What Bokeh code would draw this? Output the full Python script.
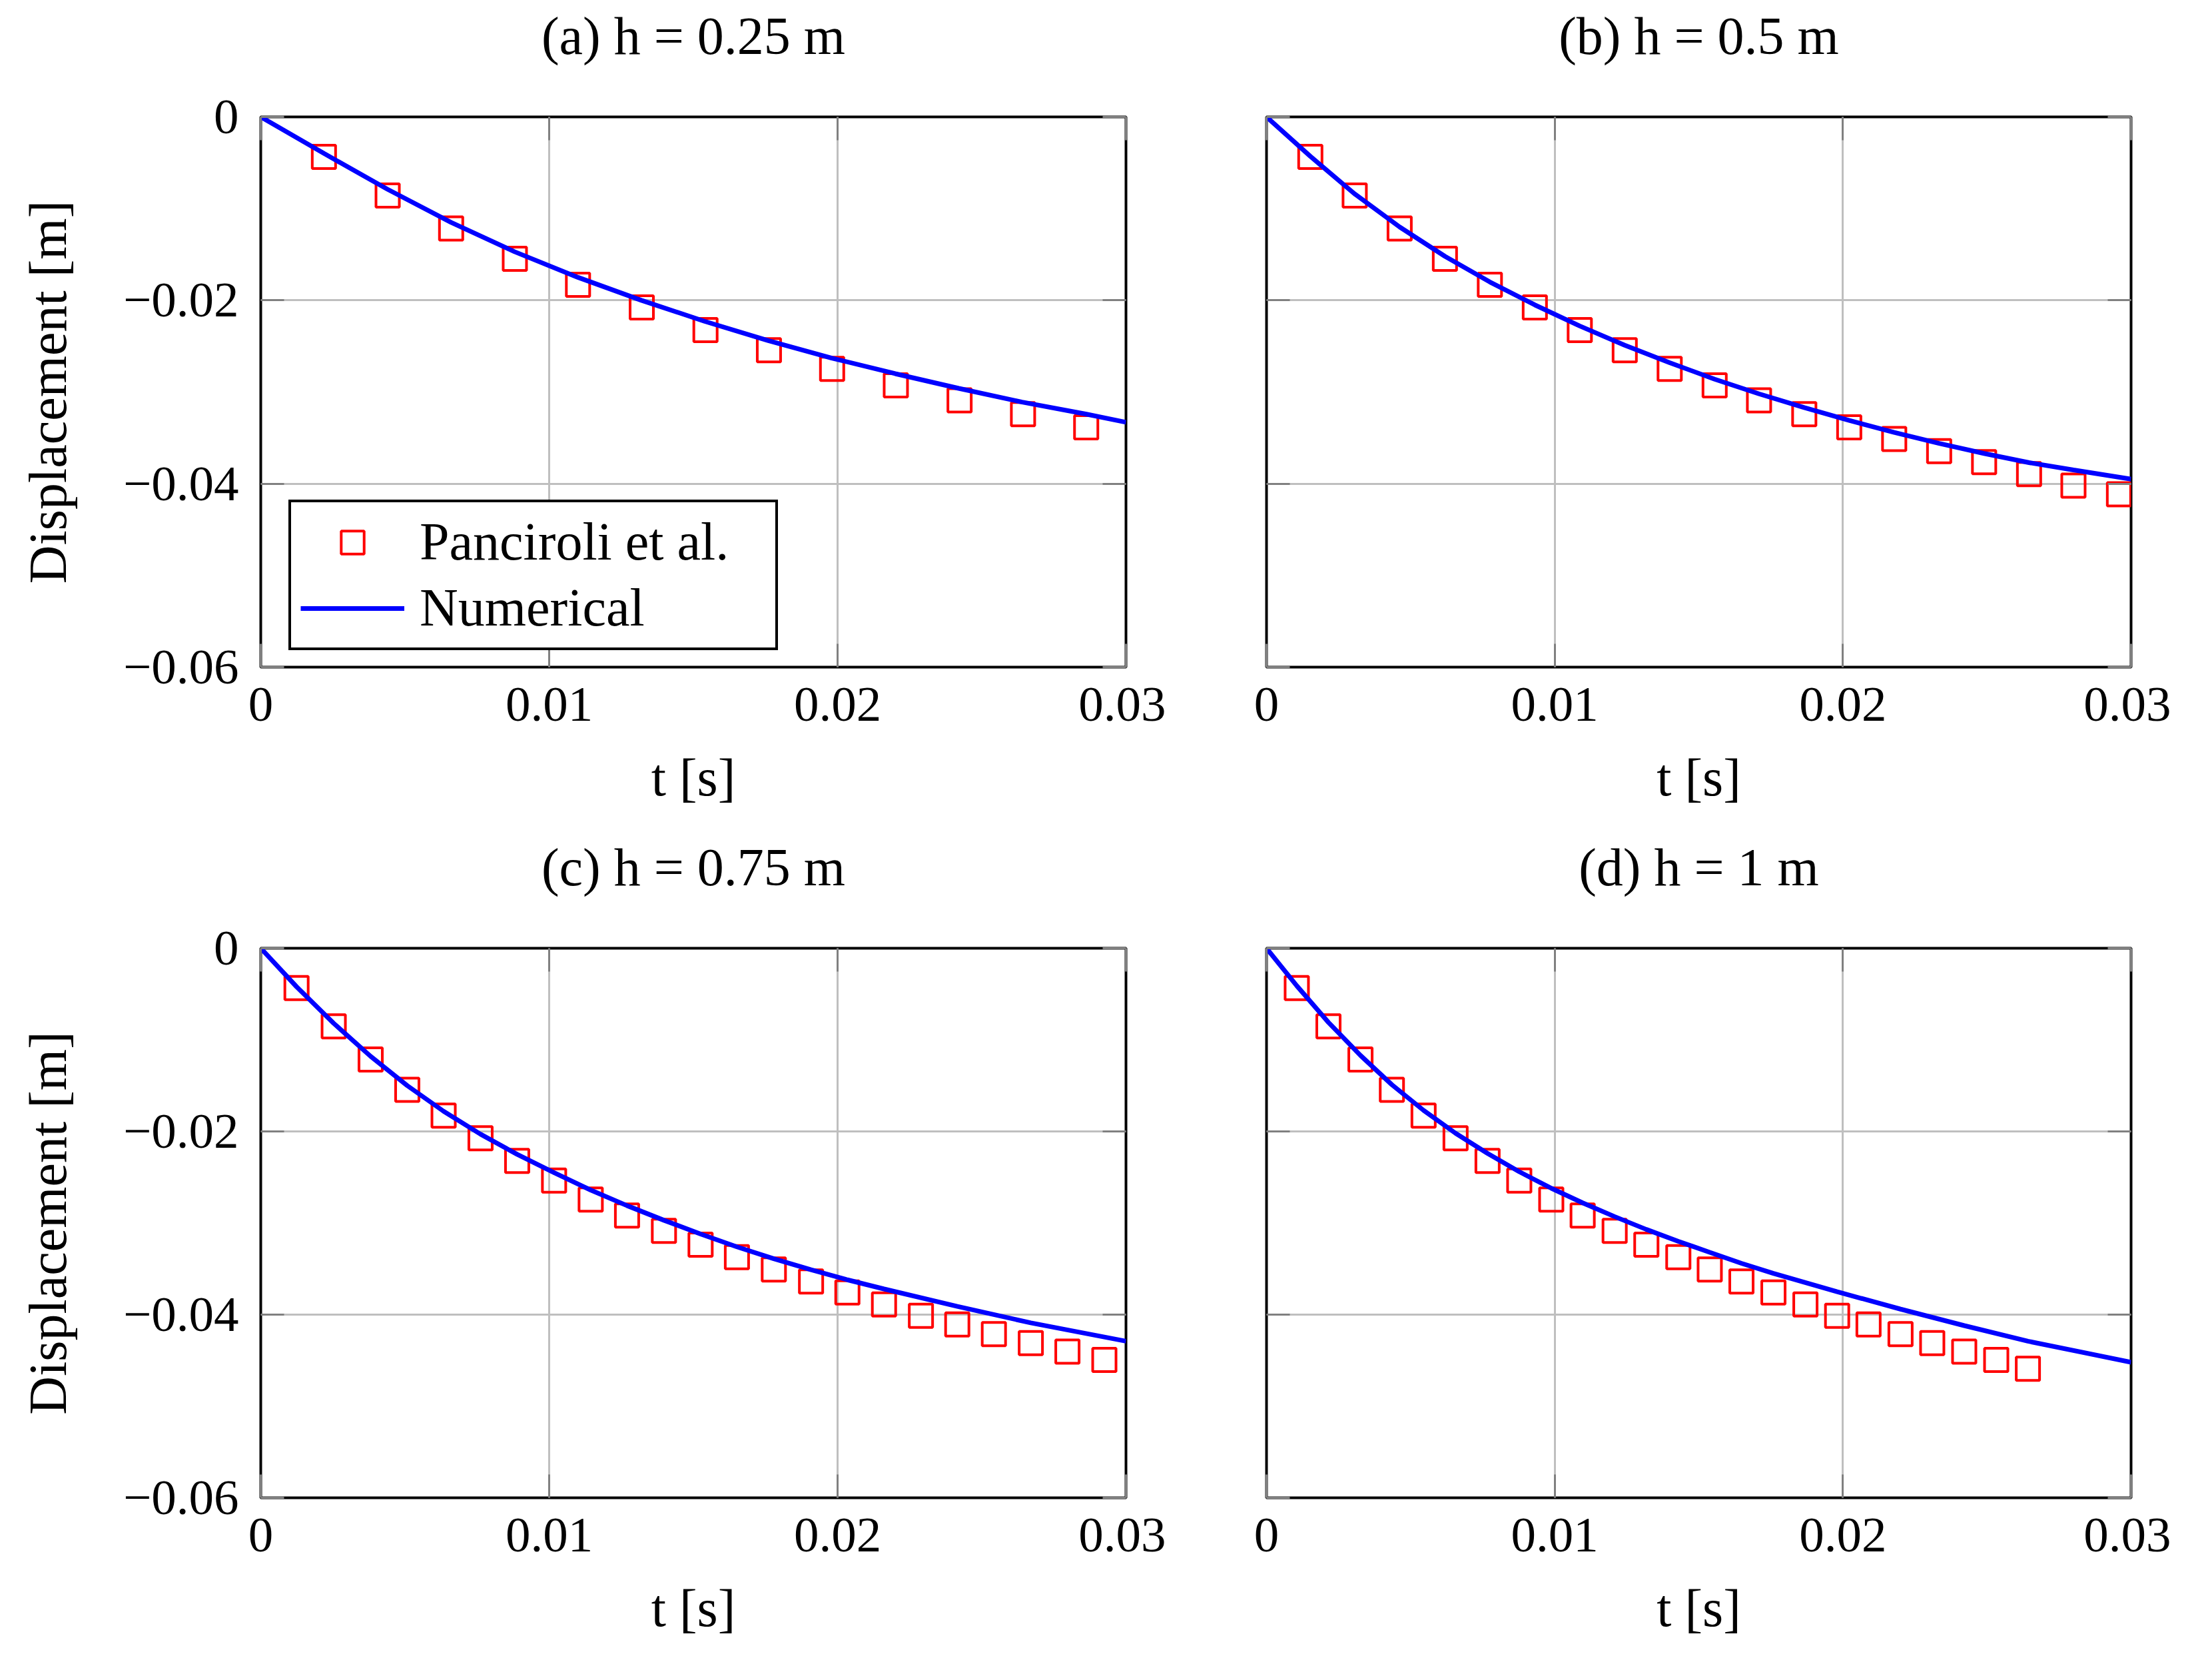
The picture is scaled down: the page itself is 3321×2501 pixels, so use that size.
from bokeh.plotting import figure
from bokeh.layouts import column, row
from bokeh.models import (Range1d, FixedTicker, CustomJSTickFormatter, LinearAxis,
                          Legend, LegendItem)
from bokeh.embed import file_html
from bokeh.resources import INLINE

# ---------------- data ----------------
titles = ["(a) h = 0.25 m", "(b) h = 0.5 m", "(c) h = 0.75 m", "(d) h = 1 m"]

# Panciroli et al. (experimental)
t_exp_a = [0.00219, 0.00440, 0.00660, 0.00881, 0.0110, 0.01321, 0.01542, 0.01762,
           0.01981, 0.02202, 0.02423, 0.02643, 0.02862]
d_exp_a = [-0.00435, -0.00857, -0.01216, -0.01547, -0.0183, -0.02077, -0.02325, -0.02544,
           -0.02747, -0.02927, -0.0309, -0.03242, -0.03385]

t_exp_b = [0.00152, 0.00306, 0.00462, 0.00619, 0.00775, 0.00931, 0.01087, 0.01243,
           0.01399, 0.01555, 0.01709, 0.01866, 0.02022, 0.02178, 0.02334, 0.0249,
           0.02646, 0.0280, 0.02958]
d_exp_b = [-0.00435, -0.00857, -0.01216, -0.01547, -0.0183, -0.02077, -0.02325, -0.02544,
           -0.02747, -0.02927, -0.0309, -0.03242, -0.03385, -0.03513, -0.03644, -0.03764,
           -0.03896, -0.0402, -0.04115]

t_exp_c = [0.00124, 0.00253, 0.00381, 0.00508, 0.00634, 0.00762, 0.00889, 0.01017,
           0.01144, 0.0127, 0.01398, 0.01525, 0.01651, 0.01779, 0.01908, 0.02034,
           0.02161, 0.02289, 0.02415, 0.02542, 0.0267, 0.02797, 0.02925]
d_exp_c = [-0.00434, -0.00852, -0.01214, -0.01545, -0.01827, -0.02074, -0.02321, -0.02536,
           -0.02743, -0.02918, -0.03085, -0.03236, -0.03372, -0.03507, -0.03639, -0.03758,
           -0.03889, -0.04013, -0.04108, -0.04212, -0.04311, -0.04403, -0.04494]

t_exp_d = [0.00105, 0.00215, 0.00326, 0.00435, 0.00545, 0.00656, 0.00767, 0.00877,
           0.00988, 0.01097, 0.01208, 0.01318, 0.01429, 0.01538, 0.01648, 0.01759,
           0.0187, 0.0198, 0.02089, 0.022, 0.0231, 0.02421, 0.02532, 0.02642]
d_exp_d = [-0.00434, -0.00852, -0.01214, -0.01545, -0.01827, -0.02074, -0.02321, -0.02536,
           -0.02743, -0.02918, -0.03085, -0.03236, -0.03372, -0.03507, -0.03639, -0.03758,
           -0.03889, -0.04013, -0.04108, -0.04212, -0.04311, -0.04403, -0.04494, -0.0459]

# Numerical
t_num_a = [0, 0.0022, 0.0044, 0.0066, 0.0088, 0.011, 0.0132, 0.0154, 0.0176, 0.0198,
           0.022, 0.0242, 0.0264, 0.0286, 0.030]
d_num_a = [0, -0.0040, -0.0079, -0.0115, -0.0147, -0.0175, -0.0200, -0.0223, -0.0244,
           -0.0263, -0.0280, -0.0296, -0.0311, -0.0324, -0.0333]

t_num_b = [0, 0.00152, 0.00306, 0.00462, 0.00619, 0.00775, 0.00931, 0.01087, 0.01243,
           0.01399, 0.01555, 0.01709, 0.01866, 0.02022, 0.02178, 0.02334, 0.0249,
           0.02646, 0.028, 0.030]
d_num_b = [0, -0.0043, -0.0084, -0.0120, -0.0152, -0.0180, -0.0205, -0.0228, -0.0249,
           -0.0268, -0.0286, -0.0302, -0.0317, -0.0331, -0.0344, -0.0356, -0.0367,
           -0.0377, -0.0385, -0.0395]

t_num_c = [0, 0.00124, 0.00253, 0.00381, 0.00508, 0.00634, 0.00762, 0.00889, 0.01017,
           0.01144, 0.0127, 0.01398, 0.01525, 0.01651, 0.01779, 0.01908, 0.02034,
           0.02161, 0.02415, 0.0267, 0.030]
d_num_c = [0, -0.0042, -0.0082, -0.0118, -0.0150, -0.0178, -0.0203, -0.0225, -0.0245,
           -0.0264, -0.0281, -0.0297, -0.0312, -0.0326, -0.0339, -0.0351, -0.0362,
           -0.0372, -0.0391, -0.0409, -0.0429]

t_num_d = [0, 0.00105, 0.00215, 0.00326, 0.00435, 0.00545, 0.00656, 0.00767, 0.00877,
           0.00988, 0.01097, 0.01208, 0.01318, 0.01429, 0.01538, 0.01648, 0.01759,
           0.0198, 0.022, 0.02421, 0.02642, 0.030]
d_num_d = [0, -0.0041, -0.0081, -0.0117, -0.0149, -0.0177, -0.0202, -0.0224, -0.0244,
           -0.0262, -0.0278, -0.0293, -0.0307, -0.0320, -0.0332, -0.0344, -0.0355,
           -0.0375, -0.0394, -0.0412, -0.0429, -0.0452]

x_ticks = [0, 0.01, 0.02, 0.03]
y_ticks = [-0.06, -0.04, -0.02, 0]

exp_sets = [(t_exp_a, d_exp_a), (t_exp_b, d_exp_b), (t_exp_c, d_exp_c), (t_exp_d, d_exp_d)]
num_sets = [(t_num_a, d_num_a), (t_num_b, d_num_b), (t_num_c, d_num_c), (t_num_d, d_num_d)]

# ---------------- style ----------------
FONT = "Liberation Serif"
FS_TICK = "75px"
FS_TEXT = "80px"
GRID = "#bfbfbf"
TICK = "#808080"

fmt_code = """
if (Math.abs(tick) < 1e-12) { return "0"; }
return tick.toFixed(2).replace("-", "\u2212");
"""


def style_axis(ax, show_labels):
    ax.axis_line_color = None
    ax.major_tick_in = 35
    ax.major_tick_out = 0
    ax.major_tick_line_color = TICK
    ax.major_tick_line_width = 3
    ax.minor_tick_line_color = None
    ax.major_label_text_font = FONT
    ax.major_label_text_font_size = FS_TICK
    ax.axis_label_text_font = FONT
    ax.axis_label_text_font_style = "normal"
    ax.axis_label_text_font_size = FS_TEXT
    ax.axis_label_text_color = "black"
    if show_labels:
        ax.major_label_text_color = "black"
        ax.formatter = CustomJSTickFormatter(code=fmt_code)
    else:
        ax.major_label_text_color = None
        ax.major_label_standoff = 0


def make_panel(i, left_labels, frame_w, frame_h, top_border, bottom_border, left_border):
    p = figure(output_backend="svg", toolbar_location=None, title=None,
               frame_width=frame_w, frame_height=frame_h,
               min_border_left=left_border, min_border_right=60,
               min_border_top=top_border, min_border_bottom=bottom_border,
               x_range=Range1d(0, 0.03), y_range=Range1d(-0.06, 0),
               x_axis_location=None, y_axis_location=None,
               background_fill_color="white", border_fill_color="white")
    p.outline_line_color = "black"
    p.outline_line_width = 4
    p.outline_line_alpha = 1.0

    xt = FixedTicker(ticks=x_ticks)
    yt = FixedTicker(ticks=y_ticks)

    bx = LinearAxis(ticker=xt, axis_label="t [s]")
    style_axis(bx, True)
    bx.major_label_standoff = 31
    bx.axis_label_standoff = 38
    p.add_layout(bx, "below")

    # top axis: inner ticks, panel caption as its label
    tx = LinearAxis(ticker=xt, axis_label=titles[i])
    style_axis(tx, False)
    tx.axis_label_standoff = 78
    p.add_layout(tx, "above")

    ly = LinearAxis(ticker=yt, axis_label="Displacement [m]" if left_labels else None)
    style_axis(ly, left_labels)
    if left_labels:
        ly.major_label_standoff = 33
        ly.axis_label_standoff = 66
    p.add_layout(ly, "left")

    ry = LinearAxis(ticker=yt)
    style_axis(ry, False)
    p.add_layout(ry, "right")

    p.xgrid.ticker = xt
    p.ygrid.ticker = yt
    for g in (p.xgrid, p.ygrid):
        g.grid_line_color = GRID
        g.grid_line_width = 3

    te, de = exp_sets[i]
    tn, dn = num_sets[i]
    r_exp = p.scatter(te, de, marker="square", size=35, fill_color=None,
                      line_color="#ff0000", line_width=4)
    r_num = p.line(tn, dn, line_color="#0000ff", line_width=7)

    if i == 0:
        legend = Legend(items=[LegendItem(label="Panciroli et al.", renderers=[r_exp]),
                               LegendItem(label="Numerical", renderers=[r_num])],
                        location=(42, 25), margin=0, padding=14, spacing=8,
                        glyph_width=156, glyph_height=86, label_standoff=23,
                        label_width=520, label_height=86,
                        label_text_font=FONT, label_text_font_size=FS_TEXT,
                        label_text_color="black",
                        border_line_color="black", border_line_width=4,
                        border_line_alpha=1.0,
                        background_fill_color="white", background_fill_alpha=1.0)
        p.add_layout(legend, "center")
    return p


pa = make_panel(0, True, 1299, 826, 175, 253, 391)
pb = make_panel(1, False, 1298, 826, 175, 253, 151)
pc = make_panel(2, True, 1299, 825, 167, 215, 391)
pd = make_panel(3, False, 1298, 825, 167, 215, 151)

layout = column(row(pa, pb), row(pc, pd))

open("out.html", "w").write(file_html(layout, INLINE))
